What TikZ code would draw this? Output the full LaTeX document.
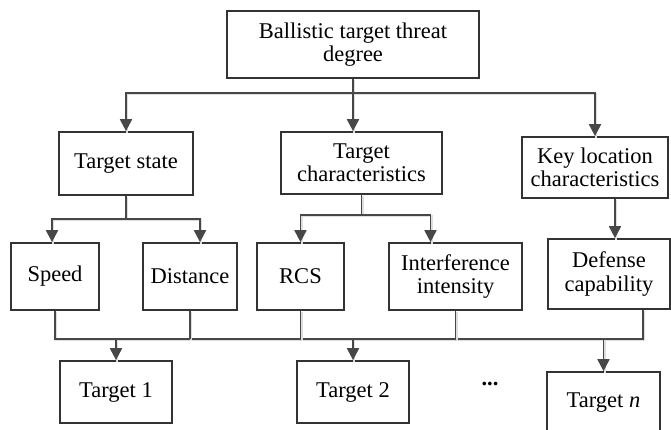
\documentclass[tikz,border=0pt]{standalone}
\usepackage{fontspec}
\setmainfont{Liberation Serif}
\usetikzlibrary{arrows.meta,calc}

\begin{document}
\begin{tikzpicture}[
    x=0.025cm, y=-0.025cm,
    box/.style={rectangle, draw=black!80, line width=1.2pt, align=center, inner sep=2pt, font=\fontsize{16pt}{16.6pt}\selectfont},
    wire/.style={draw=black!72, line width=1.35pt, preaction={draw=black!13, line width=1.35pt, arrows=-, transform canvas={shift={(1pt,-1pt)}}}},
    arr/.style={wire, -{Triangle[width=8.5pt,length=8.5pt]}},
]
\useasboundingbox (0,0) rectangle (671,429);

% Root
\node[box, minimum width=6.3cm, minimum height=1.675cm] (top) at (353,44.5) {Ballistic target threat\\degree};

% Criteria
\node[box, minimum width=3.35cm, minimum height=1.575cm] (state) at (126,163.5) {Target state};
\node[box, minimum width=4.025cm, minimum height=1.55cm] (chars) at (361.5,163) {Target\\characteristics};
\node[box, minimum width=3.65cm, minimum height=1.525cm] (keyloc) at (595,167.5) {Key location\\characteristics};

% Indicators
\node[box, minimum width=2.2cm, minimum height=1.675cm] (speed) at (55,276.5) {Speed};
\node[box, minimum width=2.35cm, minimum height=1.675cm] (dist) at (190,276.5) {Distance};
\node[box, minimum width=2.175cm, minimum height=1.675cm] (rcs) at (300.5,276.5) {RCS};
\node[box, minimum width=3.325cm, minimum height=1.675cm] (intf) at (455.5,276.5) {Interference\\intensity};
\node[box, minimum width=3.05cm, minimum height=1.75cm] (defense) at (609,274) {Defense\\capability};

% Targets
\node[box, minimum width=2.8cm, minimum height=1.55cm] (t1) at (116,392) {Target 1};
\node[box, minimum width=2.8cm, minimum height=1.55cm] (t2) at (353,392) {Target 2};
\node[box, minimum width=2.825cm, minimum height=1.55cm] (tn) at (603.5,403) {Target \textit{n}};
\node[font=\fontsize{16pt}{16.6pt}\selectfont] (dots) at (490,384) {\textbf{...}};

% Root to criteria
\coordinate (b1) at ($(top.south)+(0,14)$);
\draw[wire] (top.south) -- (b1);
\draw[arr] (b1) -| (state.north);
\draw[arr] (b1) -| (keyloc.north);
\draw[arr] (b1) -- (b1 |- chars.north);

% Criteria to indicators
\coordinate (b2) at ($(state.south)+(0,23)$);
\draw[wire] (state.south) -- (b2);
\draw[arr] (b2) -| ($(speed.north)+(-3,0)$);
\draw[arr] (b2) -| ($(dist.north)+(10,0)$);

\coordinate (b3) at ($(chars.south)+(0,20)$);
\draw[wire] (chars.south) -- (b3);
\draw[arr] (b3) -| (rcs.north);
\draw[arr] (b3) -| ($(intf.north)+(-25,0)$);

\coordinate (k) at ($(keyloc.south)+(20,0)$);
\draw[arr] (k) -- (k |- defense.north);

% Indicators to targets
\coordinate (b4) at ($(intf.south)+(0,28)$);
\coordinate (dtop) at ($(defense.south)+(34,0)$);
\coordinate (dL) at (speed.south |- b4);
\coordinate (dR) at (dtop |- b4);
\draw[wire] (speed.south) -- (dL) -- (dR) -- (dtop);
\draw[wire] (dist.south) -- (dist.south |- b4);
\draw[wire] (rcs.south) -- (rcs.south |- b4);
\draw[wire] (intf.south) -- (b4);

\draw[arr] (t1.north |- b4) -- (t1.north);
\draw[arr] (t2.north |- b4) -- (t2.north);
\draw[arr] (tn.north |- b4) -- (tn.north);
\end{tikzpicture}
\end{document}
